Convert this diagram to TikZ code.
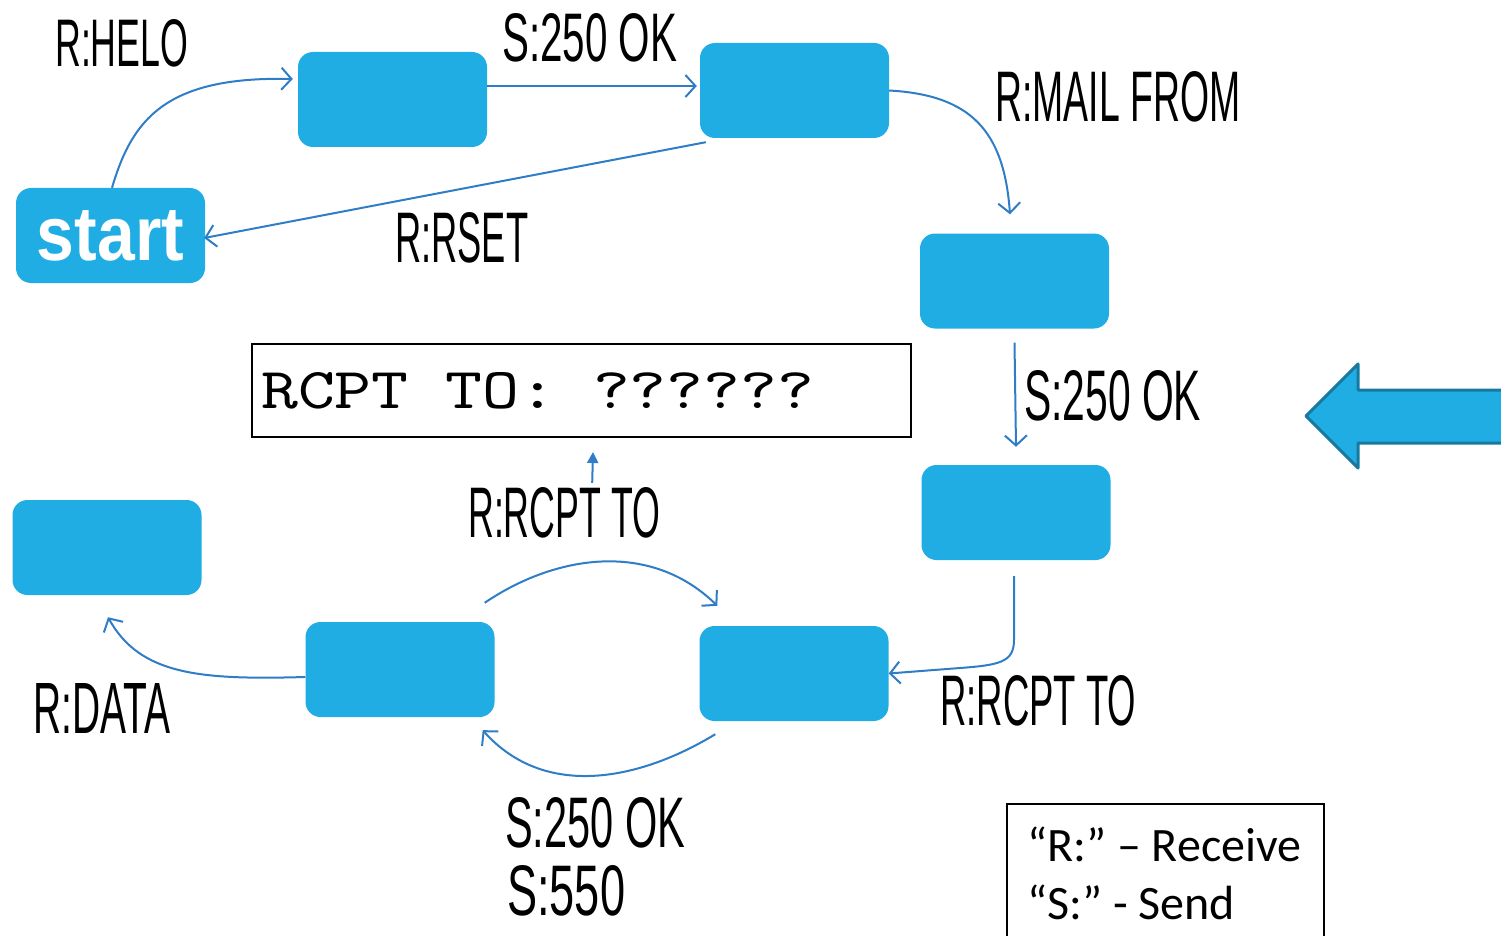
\documentclass[tikz,border=0pt]{standalone}
\usepackage{fontspec}
\usepackage{graphicx}
\usetikzlibrary{arrows.meta}
\setmainfont{Liberation Sans}
\newfontfamily\labfont{Liberation Sans}
\newfontfamily\legfont{Carlito}
\definecolor{boxblue}{RGB}{31,173,227}
\definecolor{linkblue}{RGB}{46,125,198}
\definecolor{arrowedge}{RGB}{23,121,159}
% condensed label: width, height, text
\newcommand\lab[3]{\resizebox{#1pt}{#2pt}{\labfont #3}}
\tikzset{
  state/.style={fill=boxblue, rounded corners=15pt, minimum width=189pt,
    minimum height=95pt, inner sep=0pt, text=white},
  conn/.style={draw=linkblue, line width=2pt,
    -{Straight Barb[length=10pt,width=22pt]}},
  tag/.style={inner sep=0pt, anchor=base west},
}
\begin{document}
\begin{tikzpicture}[x=1pt,y=-1pt]
\useasboundingbox (0,0) rectangle (1501,936);

% states
\node[state] (start) at (110.5,235.5) {\resizebox{147pt}{50pt}{\bfseries start}};
\node[state] (b1) at (392.5,99.5) {};
\node[state] (b2) at (794.5,90.5) {};
\node[state] (b3) at (1014.5,281) {};
\node[state] (b4) at (1016,512.5) {};
\node[state] (b5) at (794,673.5) {};
\node[state] (b6) at (400,669.5) {};
\node[state] (b7) at (107,547.5) {};

% boxed command line
\node[draw, line width=2pt, minimum width=659pt, minimum height=93pt,
  anchor=north west, inner sep=0pt] (rcptbox) at (251,343) {};
\node[tag] (rcpttext) at (261,408)
  {\resizebox{553pt}{36pt}{\ttfamily RCPT TO: ??????}};

% labels
\node[tag] (lhelo) at (55,67) {\lab{133}{47}{R:HELO}};
\node[tag] (lok1) at (502,62) {\lab{175}{48}{S:250 OK}};
\node[tag] (lmail) at (995,122) {\lab{245}{50}{R:MAIL FROM}};
\node[tag] (lrset) at (395,262) {\lab{133}{50}{R:RSET}};
\node[tag] (lok2) at (1024,420) {\lab{177}{50}{S:250 OK}};
\node[tag] (lrcpt1) at (468,537) {\lab{192}{50}{R:RCPT TO}};
\node[tag] (lrcpt2) at (940,725) {\lab{196}{50}{R:RCPT TO}};
\node[tag] (ldata) at (33,733) {\lab{137}{50}{R:DATA}};
\node[tag] (lok3) at (505,847) {\lab{180}{50}{S:250 OK}};
\node[tag] (l550) at (507,915) {\lab{118}{50}{S:550}};

% connectors
\draw[conn] ([xshift=1.5pt]start.north) .. controls (132,120) and (165,76)
  .. ([xshift=-5pt,yshift=20.5pt]b1.west);
\draw[conn] ([yshift=13.5pt]b1.east) -- ([xshift=-3pt,yshift=4.5pt]b2.west);
\draw[conn] ([xshift=6pt,yshift=-4pt]b2.south west) -- ([xshift=-1pt,yshift=-2.5pt]start.east);
\draw[conn] (b2.east) .. controls (970,95) and (1004,130)
  .. ([xshift=-4.5pt,yshift=19pt]b3.north);
\draw[conn] ([yshift=-14pt]b3.south) -- ([yshift=18pt]b4.north);
\draw[conn] ([xshift=-2pt,yshift=-16pt]b4.south) -- (1014,640)
  .. controls (1014,662) and (1000,665) .. (960,668) -- (b5.east);
\draw[conn] ([shift={(-10pt,19pt)}]b6.north east) .. controls (555,555) and (650,540)
  .. ([shift={(18pt,20pt)}]b5.north west);
\draw[conn] ([shift={(16pt,-13pt)}]b5.south west) .. controls (640,780) and (545,800)
  .. ([shift={(-12pt,-13pt)}]b6.south east);
\draw[conn] ([yshift=-7.5pt]b6.west) .. controls (200,680) and (140,675)
  .. ([xshift=1pt,yshift=-22pt]b7.south);
\draw[draw=linkblue, line width=2pt, -{Triangle[length=11pt,width=11pt]}]
  ([xshift=28pt,yshift=4pt]lrcpt1.north) -- ([xshift=11.5pt,yshift=-14pt]rcptbox.south);

% big pointer arrow on the right
\draw[fill=boxblue, draw=arrowedge, line width=3pt, line join=round]
  (1306,416) -- (1358,364) -- (1358,390) -- (1530,390) -- (1530,443)
  -- (1358,443) -- (1358,468) -- cycle;

% legend
\node[draw, line width=2pt, minimum width=317pt, minimum height=150pt,
  anchor=north west, inner sep=0pt] (legend) at (1006,803) {};
\node[tag, font=\legfont\fontsize{48pt}{48pt}\selectfont] (legr) at (1027,861)
  {“R:” – Receive};
\node[tag, font=\legfont\fontsize{48pt}{48pt}\selectfont] (legs) at (1027,919)
  {“S:” - Send};
\end{tikzpicture}
\end{document}
